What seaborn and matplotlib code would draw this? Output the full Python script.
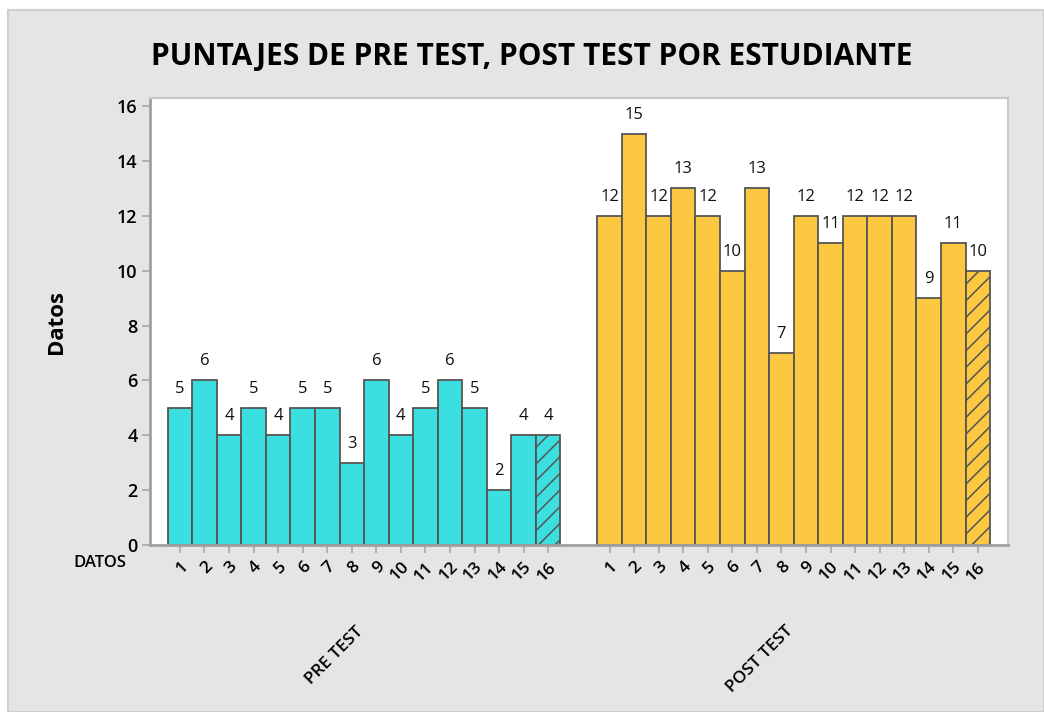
import numpy as np
import pandas as pd
import matplotlib
matplotlib.use("Agg")
import matplotlib.pyplot as plt
import matplotlib.transforms as mtransforms
from matplotlib.patches import Rectangle
import seaborn as sns

# datos del grafico
estudiantes = [str(i) for i in range(1, 17)]
pre_test = [5, 6, 4, 5, 4, 5, 5, 3, 6, 4, 5, 6, 5, 2, 4, 4]
post_test = [12, 15, 12, 13, 12, 10, 13, 7, 12, 11, 12, 12, 12, 9, 11, 10]
grupos = ["PRE TEST", "POST TEST"]
colores = {"PRE TEST": "#3cdfdf", "POST TEST": "#fcc842"}

titulo = "PUNTAJES DE PRE TEST, POST TEST POR ESTUDIANTE"

# posiciones: hueco de 1.5 barras entre grupos
pos_pre = np.arange(16, dtype=float)
pos_post = pos_pre + 17.5

df = pd.DataFrame({
    "pos": np.concatenate([pos_pre, pos_post]),
    "valor": pre_test + post_test,
    "grupo": [grupos[0]] * 16 + [grupos[1]] * 16,
})

sns.set_theme(style="white")
plt.rcParams["font.family"] = ["Open Sans", "DejaVu Sans"]
plt.rcParams["text.color"] = "black"
plt.rcParams["xtick.labelcolor"] = "black"
plt.rcParams["ytick.labelcolor"] = "black"
plt.rcParams["hatch.color"] = "#555555"
plt.rcParams["hatch.linewidth"] = 1.1

fig = plt.figure(figsize=(10.44, 7.12), dpi=100, facecolor="white")
# panel gris de fondo
fig.patches.append(Rectangle((8 / 1044, 0), 1 - 8 / 1044, 1 - 10 / 712,
                             transform=fig.transFigure, facecolor="#e5e5e5",
                             edgecolor="#cfcfcf", linewidth=1.5, zorder=-10))

ax = fig.add_axes([150 / 1044, 1 - 545 / 712, (1008 - 150) / 1044, (545 - 98) / 712])
ax.set_facecolor("white")

sns.barplot(data=df, x="pos", y="valor", hue="grupo", palette=colores,
            native_scale=True, dodge=False, width=1, edgecolor="#555555",
            linewidth=1.3, saturation=1, legend=False, ax=ax)

# barra rayada al final de cada grupo
for p in ax.patches:
    cx = p.get_x() + p.get_width() / 2
    if abs(cx - pos_pre[-1]) < 0.1 or abs(cx - pos_post[-1]) < 0.1:
        p.set_hatch("//")

for cont in ax.containers:
    ax.bar_label(cont, fmt="%d", padding=8, fontsize=12, color="#111111")

ax.set_xlim(-1.22, 33.73)
ax.set_ylim(0, 16.3)
ax.set_yticks(range(0, 17, 2))
ax.set_xticks(np.concatenate([pos_pre, pos_post]))
ax.set_xticklabels(estudiantes * 2, rotation=45, ha="right", rotation_mode="anchor",
                   fontsize=12.5, fontweight="semibold")
ax.tick_params(axis="x", bottom=True, length=6, width=1.2, color="#a8a8a8", pad=4)
ax.tick_params(axis="y", left=True, length=6, width=1.2, color="#a8a8a8", pad=3,
               labelsize=13)
for t in ax.get_yticklabels():
    t.set_fontweight("semibold")
ax.set_xlabel("")
ax.set_ylabel("")

for s in ["left", "bottom"]:
    ax.spines[s].set_color("#a0a0a0")
    ax.spines[s].set_linewidth(2)
for s in ["top", "right"]:
    ax.spines[s].set_color("#c8c8c8")
    ax.spines[s].set_linewidth(1.5)

# etiquetas de grupo debajo de los numeros
trans = mtransforms.blended_transform_factory(ax.transData, ax.transAxes)
for g, pos in zip(grupos, [pos_pre, pos_post]):
    ax.text(pos.mean() - 0.35, -0.175, g, transform=trans, rotation=45,
            ha="right", va="top", rotation_mode="anchor", fontsize=12.5,
            fontweight="semibold")

ax.text(-0.058, -0.04, "DATOS", transform=ax.transAxes, ha="center", va="center",
        fontsize=12, fontweight="semibold")

fig.text(57 / 1044, 1 - 322 / 712, "Datos", rotation=90, ha="center", va="center",
         fontsize=16, fontweight="bold")
fig.text(532 / 1044, 1 - 57 / 712, titulo, ha="center", va="center",
         fontsize=21.5, fontweight="bold")

fig.savefig("out.png", dpi=100, facecolor=fig.get_facecolor())
